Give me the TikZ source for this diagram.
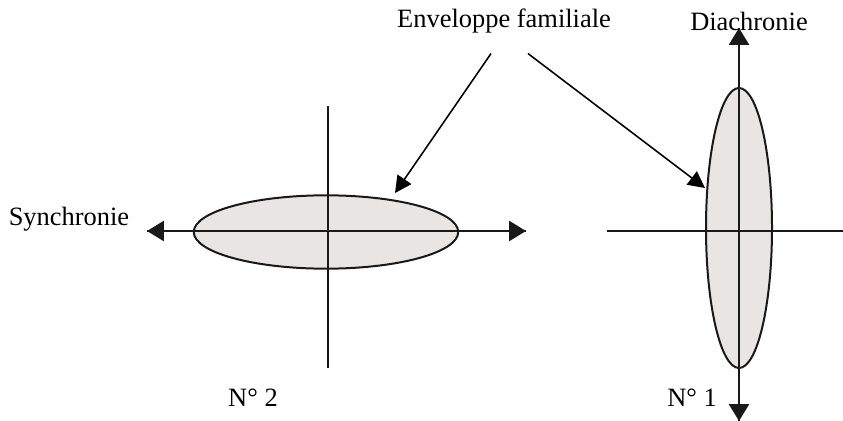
\documentclass[tikz,border=0pt]{standalone}
\usepackage{fontspec}
\setmainfont{Liberation Serif}
\usetikzlibrary{arrows.meta,shapes.geometric}
\definecolor{EnvGray}{HTML}{E8E5E3}

\begin{document}
\begin{tikzpicture}[x=0.45pt,y=-0.45pt,
  axe/.style={line width=1.1pt,draw=black!90},
  axearr/.style={axe,-{Triangle[length=7.6pt,width=9pt]}},
  env/.style={ellipse,draw=black!90,line width=0.9pt,fill=EnvGray,inner sep=0pt},
  lbl/.style={font=\fontsize{11.9}{14}\selectfont,inner sep=0pt},
  pointer/.style={line width=0.7pt,-{Triangle[length=7.5pt,width=7.5pt]}}]
\useasboundingbox (0,0) rectangle (843,421);
% N 2 : synchronie
\node[env,minimum width=119pt,minimum height=33pt] (env2) at (326,232) {};
\coordinate (h2w) at (147,231);
\coordinate (h2e) at (526,231);
\coordinate (v2n) at (328,106);
\coordinate (v2s) at (328,368);
\draw[axearr] (h2e)--(h2w);
\draw[axearr] (h2w)--(h2e);
\draw[axe] (v2n)--(v2s);
% N 1 : diachronie
\node[env,minimum width=29.7pt,minimum height=126pt] (env1) at (739,228) {};
\coordinate (h1w) at (607,231);
\coordinate (h1e) at (843,231);
\coordinate (v1n) at (739,28);
\coordinate (v1s) at (739,421);
\draw[axe] (h1w)--(h1e);
\draw[axearr] (v1s)--(v1n);
\draw[axearr] (v1n)--(v1s);
% textes
\node[lbl] (enveloppe) at (504,21) {Enveloppe familiale};
\node[lbl] (diachronie) at (749,21) {Diachronie};
\node[lbl] (synchronie) at (69,219) {Synchronie};
\node[lbl] (num2) at (253,398) {N° 2};
\node[lbl] (num1) at (692,398) {N° 1};
% fleches
\coordinate (p2) at (395,193);
\coordinate (p1) at (705,188);
\draw[pointer] (enveloppe.south)++(-13,20) coordinate (s2)--(p2);
\draw[pointer] (enveloppe.south)++(24,20) coordinate (s1)--(p1);
\end{tikzpicture}
\end{document}
